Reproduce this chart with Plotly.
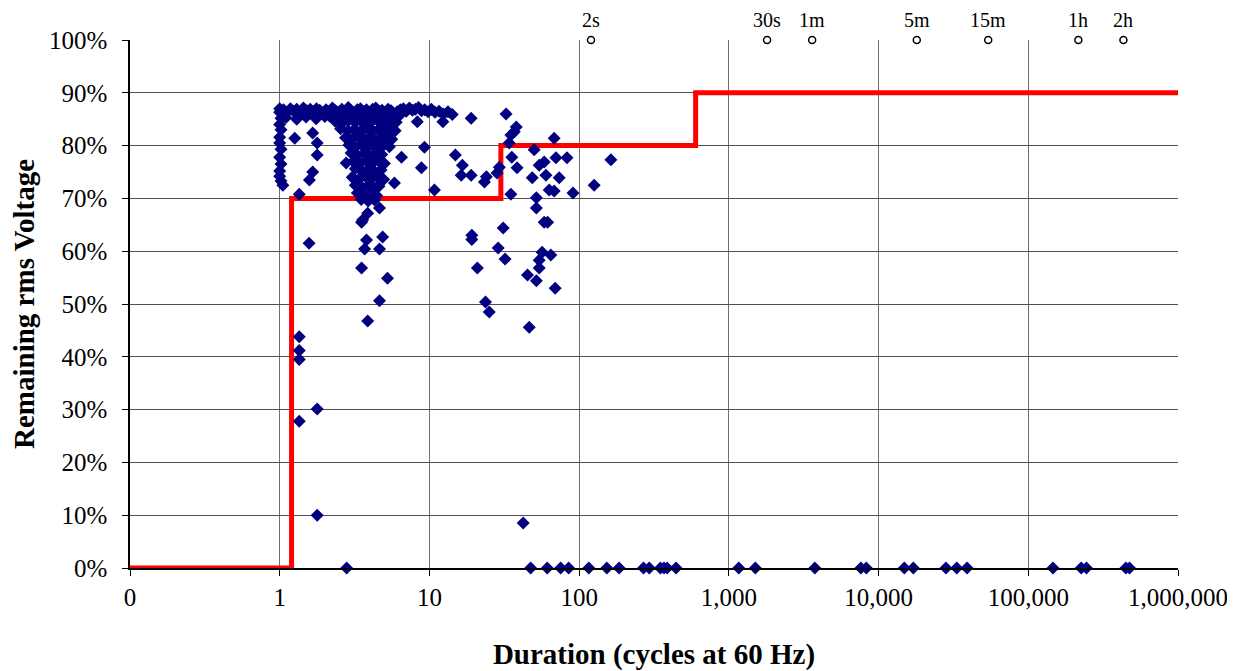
import math
import plotly.graph_objects as go

# pass-through limit curve (cycles at 60 Hz, % remaining voltage)
limit_cycles = [0.1, 1.2, 1.2, 30, 30, 600, 600, 1000000]
limit_pct = [0, 0, 70, 70, 80, 80, 90, 90]

# reference durations marked along the top edge
time_cycles = [120, 1800, 3600, 18000, 54000, 216000, 432000]
time_labels = ['2s', '30s', '1m', '5m', '15m', '1h', '2h']

x_ticks = [0.1, 1, 10, 100, 1000, 10000, 100000, 1000000]
x_tick_text = ['0', '1', '10', '100', '1,000', '10,000', '100,000', '1,000,000']
y_ticks = [0, 10, 20, 30, 40, 50, 60, 70, 80, 90, 100]
y_tick_text = ['0%', '10%', '20%', '30%', '40%', '50%', '60%', '70%', '80%', '90%', '100%']

# one-cycle events
col_cycles = [1.0, 1.0, 1.02, 1.0, 1.02, 1.0, 1.0, 1.02, 1.0, 1.02, 1.0, 1.0, 1.02, 1.05]
col_pct = [87.0, 86.3, 85.2, 84.0, 83.0, 81.6, 80.5, 79.3, 77.8, 76.5, 75.2, 74.2, 73.3, 72.5]

# shallow sags along the top band
band_cycles = [1.06, 1.12, 1.18, 1.24, 1.3, 1.37, 1.44, 1.52, 1.6, 1.68, 1.76, 1.85, 1.94,
               2.04, 2.14, 2.25, 2.36, 2.48, 2.6, 2.73, 2.87, 3.0, 3.15, 3.3, 3.46, 3.62,
               3.8, 3.98, 4.18, 4.38, 4.6, 4.82, 5.05, 5.3, 5.55, 5.82, 6.1, 6.4, 6.7, 7.0,
               7.35, 7.7, 8.05, 8.45, 8.85, 9.3, 9.8, 10.3, 10.9, 11.6, 12.4, 13.3, 14.2,
               1.1, 1.3, 1.5, 1.75, 2.0, 2.3, 2.6]
band_pct = [86.8, 86.3, 87.0, 86.5, 86.9, 86.2, 87.1, 86.6, 86.9, 86.4, 87.0, 86.7, 86.2,
            86.8, 86.5, 87.1, 86.6, 86.3, 86.9, 86.4, 87.2, 86.6, 86.1, 86.8, 87.0, 86.4,
            86.8, 86.2, 86.9, 87.1, 86.5, 86.7, 86.3, 86.9, 86.6, 86.0, 86.4, 86.8, 87.0,
            86.5, 87.1, 86.7, 86.9, 87.2, 86.6, 86.8, 86.4, 86.9, 86.3, 86.5, 86.0, 86.4,
            85.9, 85.3, 85.0, 85.4, 85.1, 85.5, 85.0, 85.3]

# dense cluster, 2 to 7 cycles
cluster_cycles = [2.15, 2.4, 2.65, 2.95, 3.2, 3.5, 3.8, 4.1, 4.5, 4.9, 5.3, 5.8, 6.3,
                  2.35, 2.6, 2.9, 3.2, 3.5, 3.85, 4.2, 4.6, 5.0, 5.5, 6.0,
                  2.55, 2.85, 3.15, 3.45, 3.8, 4.15, 4.55, 5.0, 5.5, 5.9,
                  2.75, 3.05, 3.35, 3.65, 4.0, 4.35, 4.75, 5.2, 5.6,
                  2.9, 3.2, 3.5, 3.85, 4.2, 4.6, 5.0, 5.4,
                  3.0, 3.3, 3.65, 4.0, 4.4, 4.8,
                  3.1, 3.45, 3.8, 4.2, 4.6, 5.0,
                  3.2, 3.55, 3.9, 4.3, 4.75,
                  3.05, 3.4, 3.75, 4.1, 4.5, 4.95,
                  3.2, 3.55, 3.9, 4.3, 4.6,
                  3.3, 3.7, 4.1, 4.45,
                  3.5, 3.9, 4.3]
cluster_pct = [85.6, 85.9, 85.4, 85.8, 85.5, 86.0, 85.6, 85.3, 85.8, 85.5, 85.9, 85.4, 85.7,
               84.6, 84.2, 84.8, 84.4, 84.7, 84.3, 84.8, 84.5, 84.2, 84.6, 84.4,
               83.2, 82.8, 83.1, 82.7, 83.3, 82.9, 83.0, 82.6, 83.1, 82.8,
               81.5, 81.2, 81.7, 81.3, 81.6, 81.1, 81.4, 81.8, 81.2,
               80.1, 79.7, 80.2, 79.8, 80.0, 79.6, 80.2, 79.8,
               78.6, 78.2, 78.5, 78.1, 78.6, 78.3,
               77.0, 76.7, 77.1, 76.8, 77.0, 76.6,
               75.6, 75.2, 75.5, 75.1, 75.4,
               74.0, 73.7, 74.1, 73.8, 74.0, 73.6,
               72.5, 72.1, 72.4, 72.0, 72.3,
               71.0, 70.6, 70.9, 70.5,
               69.8, 69.5, 69.7]

# scattered sags
other_cycles = [1.26, 1.66, 1.78, 1.78, 1.66, 1.58, 1.35, 2.78,
                6.51, 5.84, 9.26, 8.84, 10.8, 8.3, 12.3, 14.9, 16.6, 16.3, 19.0, 19.0,
                24.0, 23.3, 29.3, 28.3, 32.5, 38.0, 36.9, 35.0, 34.1, 35.5, 38.5, 35.0,
                50.1, 68.1, 70.0, 83.0, 54.1, 58.4, 60.0, 48.6, 73.6, 163, 126, 63.1,
                68.1, 91.0, 51.8, 51.8, 58.4, 61.6, 31.1, 19.2, 19.2, 28.8, 32.0, 56.6,
                64.7, 54.1, 54.1, 20.9, 45.2, 51.8, 69.2, 23.7, 25.1, 46.4, 42.3,
                3.52, 3.87, 3.8, 4.87, 3.69, 4.64, 3.52, 5.25, 4.64, 3.87, 3.58, 4.64,
                1.57, 1.35, 1.35, 1.35, 1.78, 1.35, 1.78]
other_pct = [81.4, 82.4, 80.5, 78.2, 75.0, 73.5, 70.8, 76.7,
             77.8, 72.9, 79.7, 75.8, 71.6, 84.5, 84.5, 78.2, 76.3, 74.4, 74.4, 85.2,
             74.1, 73.1, 75.9, 74.8, 86.0, 83.5, 82.6, 82.0, 80.5, 77.8, 75.8, 70.8,
             79.2, 81.4, 77.7, 77.7, 76.3, 76.9, 74.4, 73.9, 73.9, 77.3, 72.5, 71.6,
             71.4, 71.0, 70.1, 68.2, 65.5, 65.5, 64.4, 63.0, 62.2, 60.6, 58.5, 59.8,
             59.3, 58.3, 56.8, 56.8, 55.5, 54.4, 53.0, 50.4, 48.5, 45.6, 8.5,
             65.5, 67.2, 62.1, 62.7, 60.4, 60.4, 56.8, 54.9, 50.6, 46.8, 65.9, 68.2,
             61.5, 43.8, 41.2, 39.5, 30.1, 27.8, 10.0]

# interruptions (0 % remaining)
outage_cycles = [2.8, 47.4, 61.2, 75.2, 85.1, 116, 153, 185, 269, 294, 349, 369, 387, 444,
                 1164, 1503, 3750, 7620, 8280, 14860, 17060, 28180, 33270, 38990,
                 146200, 225600, 244600, 448700, 474200]

event_cycles = col_cycles + band_cycles + cluster_cycles + other_cycles + outage_cycles
event_pct = col_pct + band_pct + cluster_pct + other_pct + [0] * len(outage_cycles)

fig = go.Figure()
fig.add_trace(go.Scatter(x=limit_cycles, y=limit_pct, mode='lines',
                         line=dict(color='#FF0000', width=5), cliponaxis=False))
fig.add_trace(go.Scatter(x=event_cycles, y=event_pct, mode='markers', cliponaxis=False,
                         marker=dict(symbol='diamond', size=10, color='#000080',
                                     line=dict(width=0))))
fig.add_trace(go.Scatter(x=time_cycles, y=[100] * len(time_cycles), mode='markers',
                         cliponaxis=False,
                         marker=dict(symbol='circle-open', size=7, color='black',
                                     line=dict(width=1.5))))
for c, lab in zip(time_cycles, time_labels):
    fig.add_annotation(x=math.log10(c), y=100, text=lab, showarrow=False,
                       yshift=20, font=dict(size=20, family='Liberation Serif', color='black'))

# page body has an 8px margin, so the figure is shifted/sized to match
fig.update_layout(width=1227, height=663,
                  margin=dict(l=122, r=57, t=32, b=103),
                  plot_bgcolor='white', paper_bgcolor='white',
                  showlegend=False,
                  font=dict(family='Liberation Serif', color='black', size=25))
fig.update_xaxes(type='log', range=[-1, 6], tickvals=x_ticks, ticktext=x_tick_text,
                 automargin=False,
                 showgrid=True, gridcolor='#707070', gridwidth=1,
                 showline=True, linecolor='black', linewidth=1.5,
                 ticks='outside', ticklen=6, tickcolor='black', zeroline=False,
                 title=dict(text='<b>Duration (cycles at 60 Hz)</b>',
                            font=dict(size=29), standoff=35))
fig.update_yaxes(range=[0, 100], tickvals=y_ticks, ticktext=y_tick_text,
                 automargin=False,
                 showgrid=True, gridcolor='#505050', gridwidth=1,
                 showline=True, linecolor='black', linewidth=1.5,
                 ticks='outside', ticklen=6, tickcolor='black', zeroline=False,
                 ticklabelstandoff=10,
                 title=dict(text='<b>Remaining rms Voltage</b>',
                            font=dict(size=29), standoff=8))

fig.write_html("out.html")
